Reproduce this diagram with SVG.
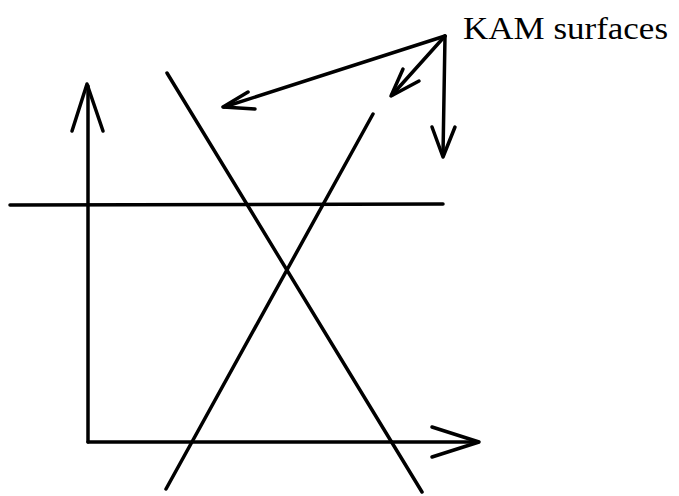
<svg xmlns="http://www.w3.org/2000/svg" width="679" height="496" viewBox="0 0 679 496">
<style>
.ln{stroke:#000;stroke-width:3.5;fill:none;stroke-linecap:round;stroke-linejoin:round}
.lbl{font-family:"Liberation Serif","Times New Roman",serif;font-size:31px;fill:#000}
</style>
<rect width="679" height="496" fill="#fff"/>
<g id="connectors">
<polyline class="ln" points="88,442 88,86"/>
<polyline class="ln" points="72,131 87,84 103,131"/>
<polyline class="ln" points="88,442 478,442"/>
<polyline class="ln" points="432,427 479,442 432,457"/>
<line class="ln" x1="10" y1="205" x2="443" y2="204"/>
<line class="ln" x1="167" y1="73" x2="422" y2="492"/>
<line class="ln" x1="166" y1="489" x2="373" y2="114"/>
<line class="ln" x1="445" y1="36" x2="224" y2="107"/>
<polyline class="ln" points="248,92 223,107 255,109"/>
<line class="ln" x1="445" y1="36" x2="392" y2="95"/>
<polyline class="ln" points="403,69 391,96 419,81"/>
<line class="ln" x1="445" y1="36" x2="443" y2="155"/>
<polyline class="ln" points="432,127 443,157 455,127"/>
</g>
<g id="label">
<text class="lbl" x="463" y="39" textLength="205" lengthAdjust="spacingAndGlyphs">KAM surfaces</text>
</g>
</svg>
